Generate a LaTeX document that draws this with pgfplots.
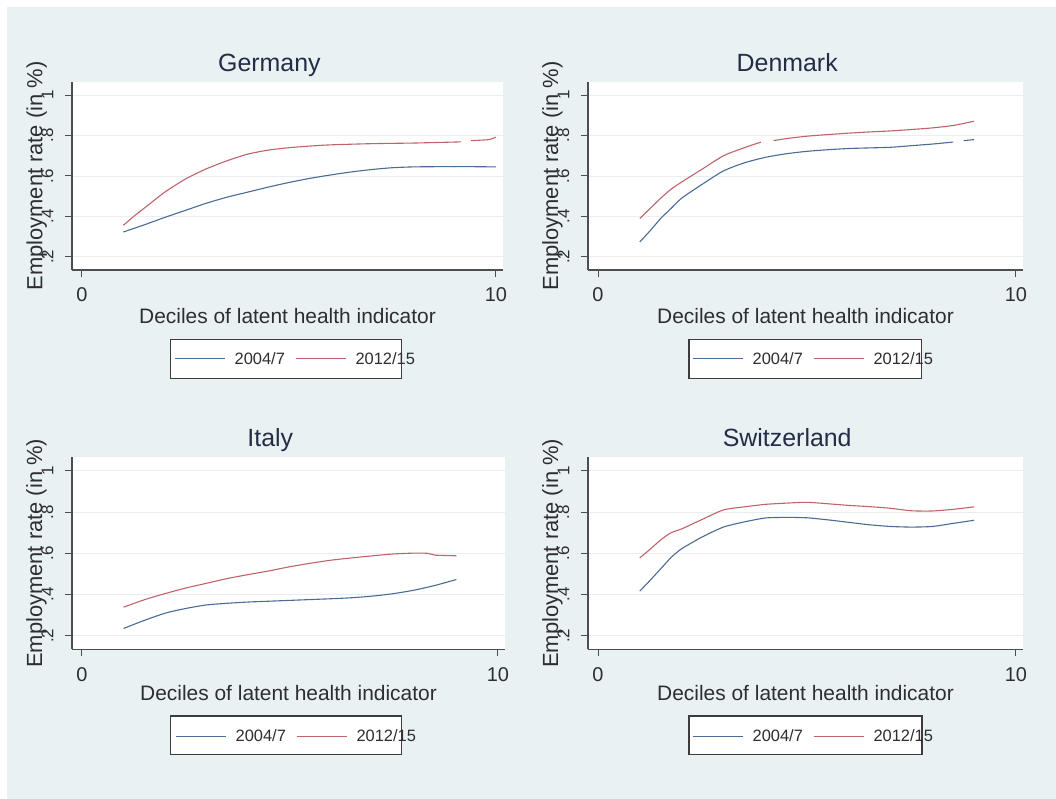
\documentclass[border=0pt]{standalone}
\usepackage{fontspec}
\setmainfont{Liberation Sans}
\usepackage{pgfplots}
\pgfplotsset{compat=1.18}
\definecolor{bgc}{RGB}{233,241,243}
\definecolor{axgray}{RGB}{75,78,82}
\definecolor{gridc}{RGB}{232,238,241}
\definecolor{txt}{RGB}{45,45,50}
\definecolor{titlec}{RGB}{35,45,70}
\definecolor{sblue}{RGB}{75,108,148}
\definecolor{sred}{RGB}{190,100,106}
\definecolor{legc}{RGB}{60,60,60}
\pgfplotsset{
 panel/.style={
  scale only axis, anchor=south west,
  xmin=-0.24, xmax=10.17, ymin=0.135, ymax=1.065,
  axis x line*=bottom, axis y line*=left,
  axis line style={draw=axgray, line width=1.3bp, -},
  axis background/.style={fill=white},
  xtick={0,10}, xticklabels={0,10},
  ytick={0.2,0.4,0.6,0.8,1}, yticklabels={.2,.4,.6,.8,1},
  tick align=outside, major tick length=7bp,
  tick style={draw=axgray, line width=1bp},
  ymajorgrids, grid style={draw=gridc, line width=0.8bp},
  xticklabel style={font=\fontsize{20}{22}\selectfont, text=txt, yshift=-7.5bp},
  yticklabel style={font=\fontsize{17}{19}\selectfont, text=txt, rotate=90, anchor=south, inner ysep=11.5bp},
  title style={font=\fontsize{25}{28}\selectfont, text=titlec, anchor=base, at={(axis description cs:0.458,1)}, yshift=4.5bp},
  xlabel={Deciles of latent health indicator},
  ylabel={Employment rate (in \%)},
  xlabel style={font=\fontsize{21}{23}\selectfont, text=txt, at={(axis description cs:0.5,0)}, anchor=base, yshift=-53.5bp},
  ylabel style={font=\fontsize{22}{24}\selectfont, text=txt, at={(axis description cs:-0.082,0.5)}, anchor=center},
  legend columns=2,
  legend image code/.code={\draw[##1, line width=1.2bp] (0bp,0bp)--(50bp,0bp); \path[draw=none] (0bp,0bp)--(58bp,0bp);},
  legend style={draw=none, fill=none, font=\fontsize{16.5}{18}\selectfont, text=txt,
    at={(axis description cs:0.5,0)}, anchor=center, xshift=8bp, yshift=-88.8bp,
    /tikz/every even column/.append style={column sep=8bp}},
  every axis plot/.append style={line width=1.1bp, smooth, tension=0.4},
  unbounded coords=jump,
 },
 b/.style={draw=sblue},
 r/.style={draw=sred},
}
\begin{document}
\begin{tikzpicture}
\path[use as bounding box] (0,0) rectangle (1056bp,799bp);
\fill[white] (0,0) rectangle (1056bp,799bp);
\fill[bgc] (7bp,0) rectangle (1056bp,792bp);
\draw[draw=legc, line width=1.5bp, fill=white] (170.7bp,420.7bp) rectangle (401.7bp,459.7bp);
\draw[draw=legc, line width=1.5bp, fill=white] (689bp,420.7bp) rectangle (921.7bp,459.7bp);
\draw[draw=legc, line width=1.5bp, fill=white] (170.7bp,44.7bp) rectangle (401.7bp,83bp);
\draw[draw=legc, line width=1.5bp, fill=white] (689bp,44.7bp) rectangle (922bp,83bp);

% Germany
\begin{axis}[panel, at={(72bp,529bp)}, width=431bp, height=188bp, title={Germany}]
\addplot[b] coordinates {(1.0,0.323)(1.5,0.358)(2.0,0.395)(2.5,0.430)(3.0,0.465)(3.5,0.495)(4.0,0.520)(4.5,0.545)(5.0,0.568)(5.5,0.588)(6.0,0.605)(6.5,0.620)(7.0,0.632)(7.5,0.641)(8.0,0.645)(8.5,0.646)(9.0,0.646)(9.5,0.646)(10.0,0.645)};
\addlegendentry{2004/7}
\addplot[r] coordinates {(1.0,0.356)(1.25,0.40)(1.5,0.44)(2.0,0.52)(2.5,0.585)(3.0,0.635)(3.5,0.675)(4.0,0.708)(4.5,0.728)(5.0,0.740)(5.5,0.748)(6.0,0.754)(7.0,0.760)(8.0,0.763)(9.0,0.768)(9.15,0.769)(9.2,nan)(9.4,0.775)(9.7,0.778)(9.85,0.781)(10.0,0.792)};
\addlegendentry{2012/15}
\end{axis}

% Denmark
\begin{axis}[panel, at={(588bp,529bp)}, width=435bp, height=188bp, title={Denmark}]
\addplot[b] coordinates {(1.0,0.274)(1.25,0.33)(1.5,0.39)(1.75,0.44)(2.0,0.49)(2.5,0.56)(3.0,0.625)(3.5,0.665)(4.0,0.692)(4.5,0.710)(5.0,0.722)(5.5,0.730)(6.0,0.736)(6.5,0.739)(7.0,0.742)(7.5,0.750)(8.0,0.758)(8.5,0.768)(8.6,nan)(8.75,0.775)(9.0,0.780)};
\addlegendentry{2004/7}
\addplot[r] coordinates {(1.0,0.39)(1.25,0.44)(1.5,0.49)(1.75,0.535)(2.0,0.57)(2.5,0.635)(3.0,0.70)(3.5,0.74)(3.9,0.768)(4.0,nan)(4.2,0.775)(4.5,0.785)(5.0,0.797)(5.5,0.805)(6.0,0.812)(6.5,0.818)(7.0,0.823)(7.5,0.830)(8.0,0.838)(8.5,0.850)(9.0,0.871)};
\addlegendentry{2012/15}
\end{axis}

% Italy
\begin{axis}[panel, at={(72bp,149.7bp)}, width=433bp, height=192bp, title={Italy},
  xlabel style={yshift=2.5bp}, legend style={yshift=2bp}]
\addplot[b] coordinates {(1.0,0.236)(1.5,0.275)(2.0,0.310)(2.5,0.333)(3.0,0.350)(3.5,0.358)(4.0,0.364)(4.5,0.368)(5.0,0.372)(5.5,0.376)(6.0,0.380)(6.5,0.385)(7.0,0.393)(7.5,0.405)(8.0,0.422)(8.5,0.445)(9.0,0.473)};
\addlegendentry{2004/7}
\addplot[r] coordinates {(1.0,0.339)(1.5,0.375)(2.0,0.405)(2.5,0.432)(3.0,0.455)(3.5,0.478)(4.0,0.497)(4.5,0.515)(5.0,0.535)(5.5,0.552)(6.0,0.567)(6.5,0.578)(7.0,0.588)(7.5,0.597)(8.0,0.601)(8.3,0.600)(8.5,0.591)(9.0,0.588)};
\addlegendentry{2012/15}
\end{axis}

% Switzerland
\begin{axis}[panel, at={(588bp,149.7bp)}, width=435bp, height=192bp, title={Switzerland},
  xlabel style={yshift=2.5bp}, legend style={yshift=2bp}]
\addplot[b] coordinates {(1.0,0.417)(1.25,0.47)(1.5,0.525)(1.75,0.58)(2.0,0.622)(2.5,0.68)(3.0,0.727)(3.5,0.752)(4.0,0.771)(4.5,0.774)(5.0,0.772)(5.5,0.762)(6.0,0.750)(6.5,0.738)(7.0,0.730)(7.5,0.727)(8.0,0.730)(8.5,0.745)(9.0,0.760)};
\addlegendentry{2004/7}
\addplot[r] coordinates {(1.0,0.578)(1.25,0.62)(1.5,0.665)(1.75,0.70)(2.0,0.718)(2.5,0.765)(3.0,0.810)(3.5,0.825)(4.0,0.837)(4.5,0.843)(5.0,0.847)(5.5,0.840)(6.0,0.832)(6.5,0.826)(7.0,0.818)(7.5,0.806)(8.0,0.805)(8.5,0.813)(9.0,0.825)};
\addlegendentry{2012/15}
\end{axis}
\end{tikzpicture}
\end{document}
